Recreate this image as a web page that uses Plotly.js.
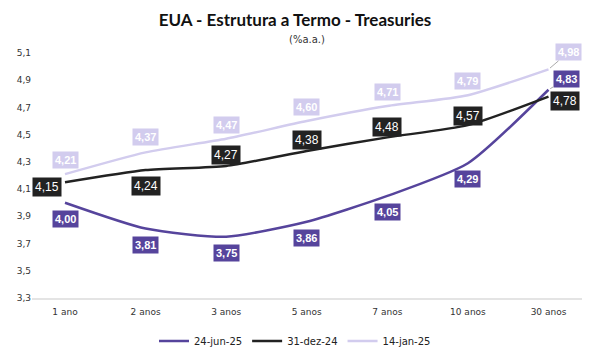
<!DOCTYPE html>
<html>
<head>
<meta charset="utf-8">
<script src="https://cdn.plot.ly/plotly-3.0.1.min.js"></script>
<style>html,body{margin:0;padding:0;background:#fff;}#chart{width:590px;height:357px;}</style>
</head>
<body>
<div id="chart"></div>
<script>
var categories = ["1 ano", "2 anos", "3 anos", "5 anos", "7 anos", "10 anos", "30 anos"];
var seriesNames = ["24-jun-25", "31-dez-24", "14-jan-25"];
var jun25 = [4.00, 3.81, 3.75, 3.86, 4.05, 4.29, 4.83];
var dez24 = [4.15, 4.24, 4.27, 4.38, 4.48, 4.57, 4.78];
var jan25 = [4.21, 4.37, 4.47, 4.60, 4.71, 4.79, 4.98];
var yTicks = [3.3, 3.5, 3.7, 3.9, 4.1, 4.3, 4.5, 4.7, 4.9, 5.1];

var colors = ["#56449c", "#222222", "#d2ccee"];
var seriesData = [jun25, dez24, jan25];

var traces = seriesData.map(function(vals, i) {
  return {
    x: categories, y: vals, type: "scatter", mode: "lines",
    name: seriesNames[i],
    line: {color: colors[i], width: 2.5, shape: "spline", smoothing: 0.6},
    hoverinfo: "skip"
  };
});

function fmt(v) { return v.toFixed(2).replace(".", ","); }

// label placement (pixel offsets) per series
var shiftsX = [
  [0, 0, 0, 0, 0, 0, 0],
  [-18, 0, 0, 0, 0, 0, 16],
  [0, 0, 0, 0, 0, 0, 0]
];
var shiftsY = [
  [-16, -16, -16, -16, -16, -16, 0],
  [-5, -16, 11, 11, 10, 9, -4],
  [14, 15, 14, 14, 14, 14, 0]
];
var bold = [true, false, true];

var annotations = [];
seriesData.forEach(function(vals, s) {
  vals.forEach(function(v, i) {
    var txt = bold[s] ? "<b>" + fmt(v) + "</b>" : fmt(v);
    var a = {
      x: categories[i], y: v, xref: "x", yref: "y", text: txt,
      showarrow: false, bgcolor: colors[s], borderpad: 2,
      font: {family: "Liberation Sans, Arial, sans-serif", size: bold[s] ? 11 : 12, color: "#ffffff"},
      xshift: shiftsX[s][i], yshift: shiftsY[s][i]
    };
    if (s === 0 && i === 6) {
      a.showarrow = true; a.arrowhead = 0; a.arrowwidth = 1; a.arrowcolor = "#aaaaaa";
      a.ax = 18; a.ay = -11; a.standoff = 2;
    }
    if (s === 2 && i === 6) {
      a.showarrow = true; a.arrowhead = 0; a.arrowwidth = 1; a.arrowcolor = "#aaaaaa";
      a.ax = 20; a.ay = -17; a.standoff = 2;
    }
    annotations.push(a);
  });
});

annotations.push({
  text: "(%a.a.)", xref: "paper", yref: "paper", x: 0.5, y: 1, yanchor: "bottom",
  yshift: 6, showarrow: false,
  font: {family: "DejaVu Sans, sans-serif", size: 10, color: "#333333"}
});

var layout = {
  width: 590, height: 357,
  margin: {l: 32, r: 8, t: 53, b: 59},
  paper_bgcolor: "#ffffff", plot_bgcolor: "#ffffff",
  separators: ",.",
  title: {
    text: "<b>EUA - Estrutura a Termo - Treasuries</b>",
    x: 0.5, xanchor: "center", y: 0.945, yanchor: "middle",
    font: {family: "Lato, DejaVu Sans, sans-serif", size: 17, color: "#111111"}
  },
  xaxis: {
    type: "category", showgrid: false, zeroline: false,
    showline: true, linecolor: "#e4e4e4", linewidth: 1.5,
    ticks: "", ticklabelstandoff: 5,
    tickfont: {family: "DejaVu Sans, sans-serif", size: 9, color: "#333333"},
    automargin: false, fixedrange: true
  },
  yaxis: {
    range: [3.3, 5.1], tickvals: yTicks, tickformat: ".1f",
    showgrid: false, zeroline: false, showline: false, ticks: "",
    tickfont: {family: "DejaVu Sans, sans-serif", size: 9, color: "#333333"},
    automargin: false, fixedrange: true
  },
  legend: {
    orientation: "h", x: 0.5, xref: "container", xanchor: "center",
    y: 0.045, yref: "container", yanchor: "middle",
    font: {family: "DejaVu Sans, sans-serif", size: 10, color: "#222222"},
    itemwidth: 30, tracegroupgap: 0
  },
  annotations: annotations,
  showlegend: true
};

Plotly.newPlot("chart", traces, layout, {displayModeBar: false, staticPlot: true});
</script>
</body>
</html>
